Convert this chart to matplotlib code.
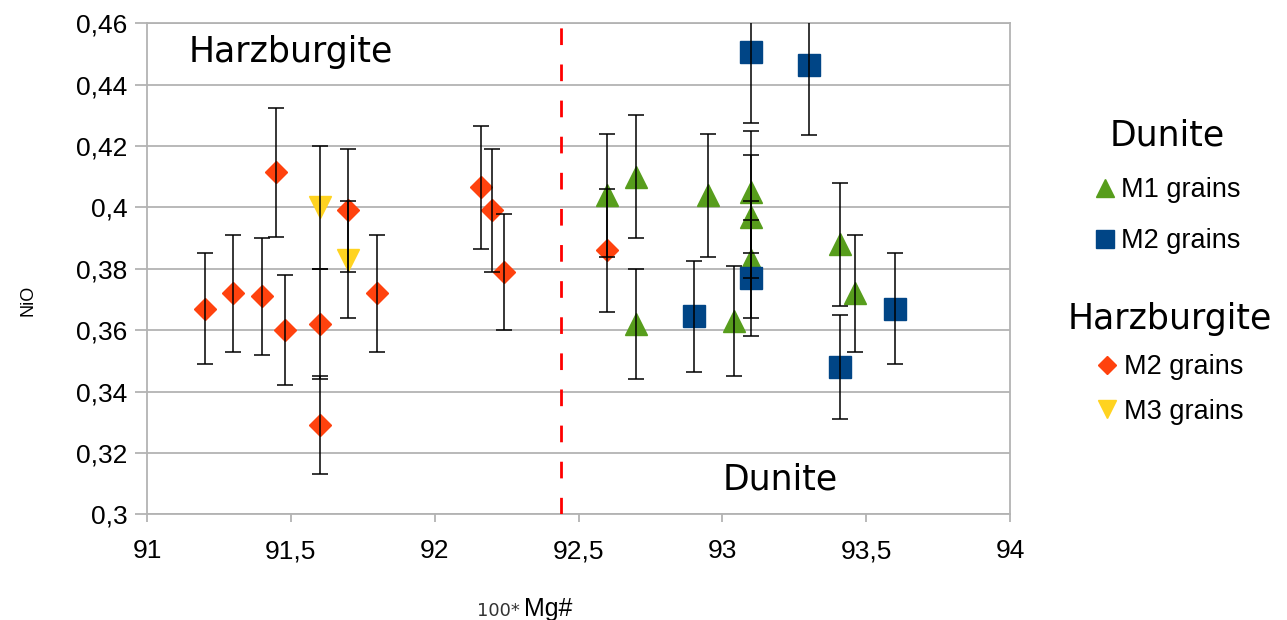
import matplotlib
matplotlib.use("Agg")
import matplotlib.pyplot as plt
from matplotlib.ticker import FuncFormatter

# Dunite, M1 grains (triangles)
d_m1_x = [92.6, 92.7, 92.7, 92.95, 93.04, 93.1, 93.1, 93.1, 93.41, 93.46]
d_m1_y = [0.404, 0.410, 0.362, 0.404, 0.363, 0.405, 0.397, 0.383, 0.388, 0.372]
d_m1_err = [0.020, 0.020, 0.018, 0.020, 0.018, 0.020, 0.020, 0.019, 0.020, 0.019]

# Dunite, M2 grains (squares)
d_m2_x = [92.9, 93.1, 93.1, 93.3, 93.41, 93.6]
d_m2_y = [0.3645, 0.4505, 0.377, 0.4465, 0.348, 0.367]
d_m2_err = [0.018, 0.023, 0.019, 0.023, 0.017, 0.018]

# Harzburgite, M2 grains (diamonds)
h_m2_x = [91.2, 91.3, 91.4, 91.45, 91.48, 91.6, 91.6, 91.7, 91.8, 92.16, 92.2, 92.24, 92.6]
h_m2_y = [0.367, 0.372, 0.371, 0.4115, 0.360, 0.362, 0.329, 0.399, 0.372, 0.4065, 0.399, 0.379, 0.386]
h_m2_err = [0.018, 0.019, 0.019, 0.021, 0.018, 0.018, 0.016, 0.020, 0.019, 0.020, 0.020, 0.019, 0.020]

# Harzburgite, M3 grains (down triangles)
h_m3_x = [91.6, 91.7]
h_m3_y = [0.400, 0.383]
h_m3_err = [0.020, 0.019]

boundary = 92.44

green = '#579D1C'
blue = '#004586'
orange = '#FF420E'
yellow = '#FFD320'
gridc = '#b3b3b3'

fig = plt.figure(figsize=(12.87, 6.2), dpi=100)
ax = fig.add_axes([0.1142, 0.1705, 0.6706, 0.7919])

# markers first, error bars drawn over them
hm1, = ax.plot(d_m1_x, d_m1_y, '^', color=green, ms=16, ls='none', zorder=3)
hm2, = ax.plot(d_m2_x, d_m2_y, 's', color=blue, ms=16, ls='none', zorder=3)
hh2, = ax.plot(h_m2_x, h_m2_y, 'D', color=orange, ms=11, ls='none', zorder=3)
hh3, = ax.plot(h_m3_x, h_m3_y, 'v', color=yellow, ms=16, ls='none', zorder=3)

for xs, ys, es in [(d_m1_x, d_m1_y, d_m1_err), (d_m2_x, d_m2_y, d_m2_err),
                   (h_m2_x, h_m2_y, h_m2_err), (h_m3_x, h_m3_y, h_m3_err)]:
    ax.errorbar(xs, ys, yerr=es, fmt='none', ecolor='black', elinewidth=1.1,
                capsize=6, capthick=1.1, zorder=4)

ax.axvline(boundary, color='#ff0000', lw=2, dashes=(6, 7), zorder=5)

ax.set_xlim(91, 94)
ax.set_ylim(0.3, 0.46)
ax.set_xticks([91, 91.5, 92, 92.5, 93, 93.5, 94])
ax.set_yticks([0.3, 0.32, 0.34, 0.36, 0.38, 0.4, 0.42, 0.44, 0.46])
comma = FuncFormatter(lambda v, p: ('%g' % round(v, 2)).replace('.', ','))
ax.xaxis.set_major_formatter(comma)
ax.yaxis.set_major_formatter(comma)
ax.yaxis.grid(True, color=gridc, lw=1.3)
ax.set_axisbelow(True)
for s in ax.spines.values():
    s.set_color(gridc)
    s.set_linewidth(1.3)
ax.tick_params(axis='y', length=9, width=1.3, color=gridc, pad=5, labelsize=19)
ax.tick_params(axis='x', length=6, width=1.3, color=gridc, pad=12, labelsize=19)
for lab in ax.get_xticklabels() + ax.get_yticklabels():
    lab.set_family('Liberation Sans')

ax.text(91.5, 0.4505, 'Harzburgite', ha='center', va='center', fontsize=25, family='DejaVu Sans')
ax.text(93.2, 0.3112, 'Dunite', ha='center', va='center', fontsize=25, family='DejaVu Sans')

fig.text(0.022, 0.516, 'NiO', rotation=90, ha='center', va='center', fontsize=13, family='Liberation Sans')
fig.text(520 / 1287, 0.006, '100*', ha='right', va='baseline', fontsize=13, family='DejaVu Sans', color='#333333')
fig.text(524 / 1287, 0.006, 'Mg#', ha='left', va='baseline', fontsize=18, family='Liberation Sans')

leg_kw = dict(loc='upper center', bbox_transform=fig.transFigure, frameon=False,
              prop={'family': 'Liberation Sans', 'size': 19.5},
              title_fontproperties={'family': 'DejaVu Sans', 'size': 25},
              handlelength=0.8, handletextpad=0.2, borderpad=0)
leg1 = ax.legend(handles=[hm1, hm2], labels=['M1 grains', 'M2 grains'], title='Dunite',
                 bbox_to_anchor=(0.907, 0.831), markerscale=0.8, labelspacing=0.92, **leg_kw)
ax.add_artist(leg1)
ax.legend(handles=[hh2, hh3], labels=['M2 grains', 'M3 grains'], title='Harzburgite',
          bbox_to_anchor=(0.909, 0.535), markerscale=0.82, labelspacing=0.68, **leg_kw)

fig.savefig('out.png', dpi=100)
